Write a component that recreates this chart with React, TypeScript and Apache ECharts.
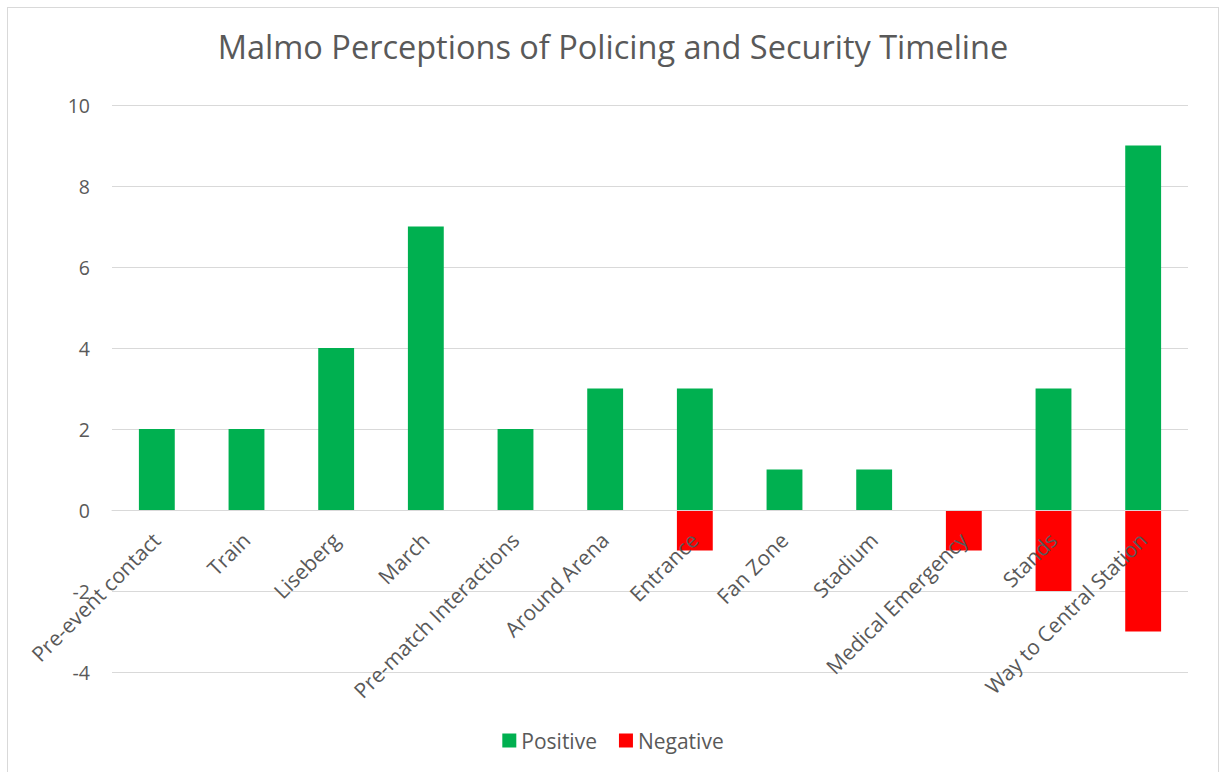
import React, { useEffect, useRef } from "react";
import * as echarts from "echarts";

const categories = [
  "Pre-event contact",
  "Train",
  "Liseberg",
  "March",
  "Pre-match Interactions",
  "Around Arena",
  "Entrance",
  "Fan Zone",
  "Stadium",
  "Medical Emergency",
  "Stands",
  "Way to Central Station",
];
const positive = [2, 2, 4, 7, 2, 3, 3, 1, 1, 0, 3, 9];
const negative = [0, 0, 0, 0, 0, 0, -1, 0, 0, -1, -2, -3];

const Y_MIN = -4;
const Y_MAX = 10;
const Y_STEP = 2;

const FONT = "'Open Sans', sans-serif";
const TEXT = "#595959";
const GRID = "#d9d9d9";

// plot area geometry inside the 1210x770 canvas
const GRID_TOP = 97;
const GRID_BOTTOM = 106;
const CHART_H = 770;

export default function App() {
  const ref = useRef<HTMLDivElement>(null);

  useEffect(() => {
    if (!ref.current) return;
    const chart = echarts.init(ref.current, undefined, { renderer: "svg" });
    const plotH = CHART_H - GRID_TOP - GRID_BOTTOM;
    // lift the category axis from the bottom edge to the zero line
    const zeroLift = (plotH * (0 - Y_MIN)) / (Y_MAX - Y_MIN);
    chart.setOption({
      animation: false,
      backgroundColor: "#ffffff",
      title: {
        text: "Malmo Perceptions of Policing and Security Timeline",
        left: "center",
        top: 17,
        textStyle: { fontFamily: FONT, fontSize: 32.5, fontWeight: "normal", color: TEXT },
      },
      legend: {
        top: 717,
        left: "center",
        icon: "rect",
        itemWidth: 14,
        itemHeight: 14,
        itemGap: 22,
        textStyle: { fontFamily: FONT, fontSize: 21, color: TEXT },
        data: ["Positive", "Negative"],
      },
      grid: {
        left: 104,
        right: 30,
        top: GRID_TOP,
        bottom: GRID_BOTTOM,
        containLabel: false,
        outerBoundsMode: "none",
      },
      xAxis: {
        type: "category",
        data: categories,
        offset: -zeroLift,
        z: 10,
        axisLine: {
          show: true,
          onZero: false,
          lineStyle: { color: GRID, width: 1 },
        },
        axisTick: { show: false },
        axisLabel: {
          interval: 0,
          rotate: 45,
          margin: 11,
          align: "right",
          verticalAlign: "top",
          padding: [0, 11, 0, 0],
          fontFamily: FONT,
          fontSize: 21,
          color: TEXT,
        },
      },
      yAxis: {
        type: "value",
        min: Y_MIN,
        max: Y_MAX,
        interval: Y_STEP,
        axisLine: { show: false },
        axisTick: { show: false },
        axisLabel: { margin: 22, fontFamily: FONT, fontSize: 19.5, color: TEXT },
        splitLine: { lineStyle: { color: GRID, width: 1 } },
      },
      series: [
        {
          name: "Positive",
          type: "bar",
          stack: "total",
          barWidth: "40%",
          itemStyle: { color: "#00b050" },
          data: positive,
        },
        {
          name: "Negative",
          type: "bar",
          stack: "total",
          barWidth: "40%",
          itemStyle: { color: "#ff0000" },
          data: negative,
        },
      ],
    });
    return () => chart.dispose();
  }, []);

  return (
    <div
      style={{
        position: "absolute",
        left: 7,
        top: 7,
        width: 1212,
        height: 772,
        border: "1px solid #d9d9d9",
        boxSizing: "border-box",
      }}
    >
      <div ref={ref} style={{ width: 1210, height: CHART_H }} />
    </div>
  );
}
